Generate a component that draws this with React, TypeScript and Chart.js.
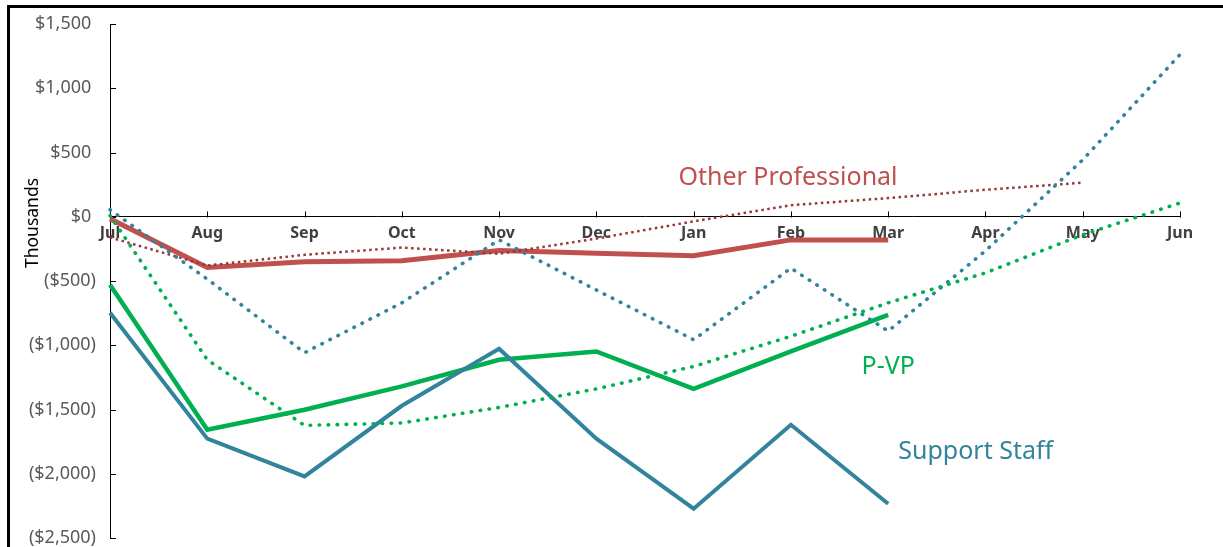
import React, { useEffect, useRef } from 'react';
import { Chart, registerables } from 'chart.js';

Chart.register(...registerables);

const months = ['Jul', 'Aug', 'Sep', 'Oct', 'Nov', 'Dec', 'Jan', 'Feb', 'Mar', 'Apr', 'May', 'Jun'];

const otherProfActual = [-15, -395, -350, -342, -262, -285, -303, -180, -180, null, null, null];
const otherProfTrend = [-160, -380, -296, -240, -288, -170, -36, 90, 145, 210, 265, null];
const supportActual = [-747, -1727, -2021, -1471, -1027, -1727, -2272, -1619, -2233, null, null, null];
const supportTrend = [55, -485, -1058, -670, -180, -570, -957, -400, -890, -265, 443, 1262];
const pvpActual = [-529, -1658, -1502, -1320, -1113, -1048, -1340, -1048, -763, null, null, null];
const pvpTrend = [10, -1113, -1624, -1605, -1484, -1340, -1165, -930, -670, -437, -140, 107];

const yMin = -2500;
const yMax = 1500;
const yStep = 500;

const seriesLabels = [
  { text: 'Other Professional', x: 6.97, y: 303, color: '#C0504D' },
  { text: 'P-VP', x: 8.0, y: -1167, color: '#00B050' },
  { text: 'Support Staff', x: 8.9, y: -1829, color: '#31849B' },
];

const axisTitle = 'Thousands';

function fmt(v: number): string {
  const s = Math.abs(v).toLocaleString('en-US');
  return v < 0 ? `($${s})` : `$${s} `;
}

const decorPlugin = {
  id: 'decor',
  beforeDatasetsDraw(chart: any) {
    const { ctx, scales, chartArea } = chart;
    const x = scales.x;
    const y = scales.y;
    ctx.save();
    ctx.strokeStyle = '#000';
    ctx.lineWidth = 1;
    const y0 = Math.round(y.getPixelForValue(0)) + 0.5;
    months.forEach((_, i) => {
      const px = Math.round(x.getPixelForValue(i)) + 0.5;
      ctx.beginPath();
      ctx.moveTo(px, y0);
      ctx.lineTo(px, y0 - 6);
      ctx.stroke();
    });
    y.ticks.forEach((t: any) => {
      const py = Math.round(y.getPixelForValue(t.value)) + 0.5;
      ctx.beginPath();
      ctx.moveTo(chartArea.left, py);
      ctx.lineTo(chartArea.left + 6, py);
      ctx.stroke();
    });
    ctx.translate(chartArea.left - 77, 223);
    ctx.rotate(-Math.PI / 2);
    ctx.fillStyle = '#000';
    ctx.font = '17.5px "Noto Sans"';
    ctx.textAlign = 'center';
    ctx.textBaseline = 'middle';
    ctx.fillText(axisTitle, 0, 0);
    ctx.restore();
  },
  afterDatasetsDraw(chart: any) {
    const { ctx, scales } = chart;
    ctx.save();
    ctx.font = '25px "Noto Sans"';
    ctx.textAlign = 'center';
    ctx.textBaseline = 'middle';
    seriesLabels.forEach((l) => {
      ctx.fillStyle = l.color;
      ctx.fillText(l.text, scales.x.getPixelForValue(l.x), scales.y.getPixelForValue(l.y));
    });
    ctx.restore();
  },
};

export default function App() {
  const ref = useRef<HTMLCanvasElement>(null);
  useEffect(() => {
    if (!ref.current) return;
    const dotted = (color: string) => ({
      borderColor: color,
      borderWidth: 3.6,
      borderDash: [0.5, 8.5],
      borderCapStyle: 'round' as const,
      pointRadius: 0,
      tension: 0,
      fill: false,
    });
    const solid = (color: string, w: number) => ({
      borderColor: color,
      borderWidth: w,
      borderCapStyle: 'butt' as const,
      borderJoinStyle: 'miter' as const,
      pointRadius: 0,
      tension: 0,
      fill: false,
    });
    const chart = new Chart(ref.current, {
      type: 'line',
      data: {
        labels: months,
        datasets: [
          { label: 'P-VP Trend', data: pvpTrend, ...dotted('#00B050') },
          { label: 'Support Staff Trend', data: supportTrend, ...dotted('#31849B') },
          {
            label: 'Other Professional Trend',
            data: otherProfTrend,
            borderColor: '#953735',
            borderWidth: 2.5,
            borderDash: [2.5, 3.5],
            pointRadius: 0,
            tension: 0,
            fill: false,
          },
          { label: 'Support Staff', data: supportActual, ...solid('#31849B', 4) },
          { label: 'P-VP', data: pvpActual, ...solid('#00B050', 4.5) },
          { label: 'Other Professional', data: otherProfActual, ...solid('#C0504D', 5) },
        ],
      },
      options: {
        responsive: false,
        animation: false,
        layout: { padding: { left: 0, top: 24, right: 43, bottom: 9 } },
        plugins: {
          legend: { display: false },
          tooltip: { enabled: false },
        },
        scales: {
          x: {
            type: 'category',
            position: { y: 0 } as any,
            offset: false,
            afterFit: (s: any) => {
              s.height = 0;
              s.paddingLeft = 0;
              s.paddingRight = 0;
              s.paddingTop = 0;
              s.paddingBottom = 0;
            },
            grid: { display: false, drawTicks: false },
            border: { display: true, color: '#000', width: 1 },
            ticks: {
              color: '#404040',
              font: { family: 'Noto Sans', size: 16, weight: 'bold' },
              padding: 7,
              maxRotation: 0,
              autoSkip: false,
            },
          },
          y: {
            type: 'linear',
            position: 'left',
            min: yMin,
            max: yMax,
            afterFit: (s: any) => {
              s.width = 110;
              s.paddingTop = 0;
              s.paddingBottom = 0;
            },
            grid: { display: false, drawTicks: false },
            border: { display: true, color: '#000', width: 1 },
            ticks: {
              stepSize: yStep,
              color: '#595959',
              font: { family: 'Noto Sans', size: 18 },
              padding: 14,
              callback: (v: any) => fmt(Number(v)),
            },
          },
        },
      },
      plugins: [decorPlugin],
    });
    return () => chart.destroy();
  }, []);

  return (
    <div
      style={{
        position: 'fixed',
        left: 0,
        top: 0,
        width: 1223,
        height: 547,
        overflow: 'hidden',
        background: '#fff',
      }}
    >
      <canvas ref={ref} width={1223} height={547} style={{ position: 'absolute', left: 0, top: 0 }} />
      <div
        style={{
          position: 'absolute',
          left: 7,
          top: 5,
          width: 1400,
          height: 800,
          borderLeft: '3px solid #000',
          borderTop: '3px solid #000',
          pointerEvents: 'none',
        }}
      />
    </div>
  );
}
